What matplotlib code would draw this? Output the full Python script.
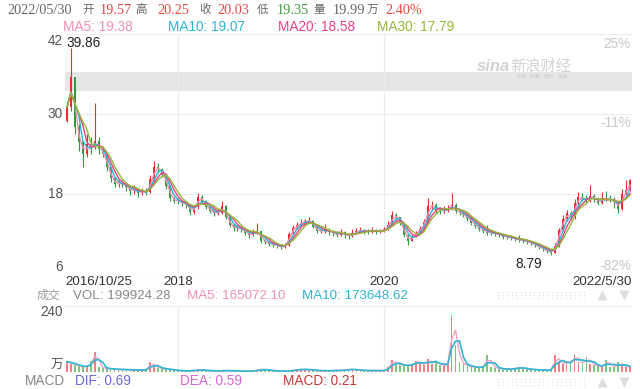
import numpy as np
import pandas as pd
import matplotlib
matplotlib.use("Agg")
import matplotlib.pyplot as plt
import matplotlib.transforms as mtransforms

plt.rcParams['font.family'] = ['Liberation Sans', 'Noto Sans CJK SC']

# price samples (roughly one every two weeks)
close = [31.0, 35.5, 28.0, 25.8, 24.0, 25.5, 25.0, 26.0, 24.8, 24.0,
         22.0, 20.4, 19.5, 19.6, 19.5, 19.0, 18.4, 18.7, 18.1, 18.4,
         18.3, 20.2, 22.0, 21.8, 20.9, 19.2, 17.4, 17.0, 16.9, 16.6,
         16.4, 15.3, 16.0, 17.6, 17.0, 16.0, 15.5, 15.1, 15.2, 16.2,
         14.6, 13.3, 12.9, 12.9, 12.7, 12.2, 11.8, 12.3, 12.4, 11.0,
         10.8, 10.5, 10.4, 10.2, 10.0, 10.3, 12.0, 12.9, 13.4, 13.7,
         13.9, 14.0, 13.1, 12.4, 12.5, 12.6, 12.3, 12.1, 11.9, 12.3,
         11.8, 11.7, 12.1, 12.4, 12.6, 12.4, 12.3, 12.6, 12.4, 12.4,
         12.7, 13.4, 14.8, 14.5, 13.6, 11.8, 11.0, 11.6, 12.2, 12.8,
         13.8, 16.2, 16.3, 15.6, 15.5, 15.6, 15.8, 16.4, 15.5, 15.1,
         14.8, 14.4, 13.6, 13.2, 12.8, 12.5, 12.2, 12.1, 12.0, 11.9,
         11.6, 11.5, 11.4, 11.2, 11.1, 11.0, 10.8, 10.6, 10.3, 10.0,
         9.7, 9.4, 9.2, 10.2, 12.6, 14.2, 15.1, 14.5, 16.6, 17.5,
         17.4, 17.0, 17.7, 17.2, 16.7, 17.4, 17.3, 17.1, 16.8, 15.8,
         18.0, 18.6, 20.03]
high = [32.0, 39.86, 34.0, 28.5, 26.0, 27.0, 26.5, 31.6, 26.5, 25.2,
        24.0, 22.0, 20.6, 20.2, 20.1, 19.8, 19.2, 19.3, 18.9, 18.9,
        18.9, 20.8, 23.0, 22.6, 21.9, 21.0, 19.3, 17.6, 17.4, 17.1,
        16.9, 16.5, 16.4, 18.2, 17.8, 17.1, 16.1, 15.7, 15.6, 16.9,
        16.3, 14.8, 13.5, 13.3, 13.2, 12.9, 12.4, 12.8, 13.6, 12.5,
        11.3, 11.0, 10.8, 10.6, 10.4, 10.6, 12.3, 13.3, 13.8, 14.2,
        14.2, 14.6, 14.1, 13.3, 12.9, 13.5, 12.9, 12.6, 12.3, 12.7,
        12.5, 12.0, 12.7, 12.9, 13.0, 12.8, 12.7, 13.0, 12.8, 12.7,
        13.0, 13.9, 15.4, 15.1, 14.6, 13.7, 11.9, 11.9, 12.5, 13.2,
        14.3, 17.4, 16.9, 16.6, 16.1, 16.2, 16.4, 18.1, 16.6, 15.8,
        15.4, 15.0, 14.6, 13.8, 13.5, 13.0, 13.3, 12.6, 12.4, 12.3,
        12.1, 11.9, 11.8, 11.6, 11.9, 11.4, 11.2, 11.0, 10.8, 10.5,
        10.2, 9.8, 9.6, 10.6, 12.9, 14.9, 15.6, 15.4, 17.2, 18.3,
        18.1, 17.9, 19.4, 18.0, 17.5, 18.3, 18.4, 17.8, 17.5, 16.9,
        18.7, 20.1, 20.25]
low = [28.8, 30.5, 27.0, 24.5, 22.0, 23.5, 24.0, 24.8, 24.0, 23.5,
       21.5, 19.8, 19.0, 19.0, 19.0, 18.5, 17.8, 18.0, 17.6, 17.8,
       17.9, 18.1, 19.9, 21.2, 20.5, 18.8, 16.9, 16.6, 16.5, 16.2,
       15.9, 14.8, 15.0, 15.8, 16.6, 15.7, 15.1, 14.7, 14.8, 15.0,
       14.2, 13.0, 12.5, 12.5, 12.3, 11.9, 11.4, 11.7, 12.0, 10.6,
       10.5, 10.2, 10.1, 9.9, 9.7, 9.9, 10.2, 11.8, 12.8, 13.2,
       13.4, 13.6, 12.9, 12.1, 12.1, 12.2, 11.9, 11.7, 11.5, 11.7,
       11.4, 11.3, 11.6, 12.0, 12.2, 12.0, 12.0, 12.1, 12.0, 12.1,
       12.3, 12.6, 13.3, 14.1, 13.4, 11.5, 10.4, 10.9, 11.5, 12.1,
       12.7, 13.7, 15.8, 15.2, 15.0, 15.1, 15.3, 15.6, 15.2, 14.8,
       14.5, 14.0, 13.3, 12.9, 12.4, 12.2, 11.8, 11.8, 11.7, 11.6,
       11.3, 11.2, 11.1, 10.9, 10.8, 10.7, 10.5, 10.3, 10.0, 9.7,
       9.4, 9.1, 8.79, 9.1, 10.1, 12.4, 14.0, 14.1, 14.3, 16.4,
       16.9, 16.6, 16.8, 16.8, 16.3, 16.5, 16.9, 16.8, 15.9, 15.2,
       15.6, 17.9, 18.4]
first_open = 29.0

# volume in 万 shares
volume = [38, 30, 25, 22, 20, 18, 40, 73, 20, 14,
          12, 11, 10, 9, 9, 8, 8, 7, 7, 8,
          10, 36, 20, 14, 12, 10, 8, 6, 5, 4,
          4, 5, 6, 8, 7, 5, 4, 4, 4, 6,
          5, 4, 4, 3, 3, 3, 3, 4, 9, 10,
          7, 5, 4, 3, 3, 3, 5, 7, 9, 10,
          9, 8, 6, 5, 5, 4, 5, 6, 5, 6,
          8, 10, 9, 7, 6, 5, 5, 6, 5, 5,
          6, 20, 44, 28, 24, 26, 22, 30, 40, 32,
          26, 48, 30, 38, 26, 24, 30, 207, 98, 35,
          28, 22, 18, 16, 18, 20, 62, 20, 15, 12,
          11, 10, 11, 14, 18, 12, 10, 9, 8, 7,
          7, 6, 8, 62, 35, 30, 40, 32, 65, 36,
          30, 55, 30, 25, 22, 18, 45, 20, 18, 35,
          22, 20, 20]

date_ticks = [0, 28, 80, 142]
date_labels = ['2016/10/25', '2018', '2020', '2022/5/30']
price_ticks = [42, 30, 18, 6]
pct_ticks = [42, 30, 6]
pct_labels = ['25%', '-11%', '-82%']

ma_windows = [2, 3, 4, 5]
ma_names = ['MA5: 19.38', 'MA10: 19.07', 'MA20: 18.58', 'MA30: 17.79']
ma_colors = ['#f48fb1', '#2bb6d3', '#e8418b', '#93b936']

RED = '#f02b2b'
GREEN = '#2f9e3a'
GRID = '#ececec'

close = np.array(close)
opens = np.r_[first_open, close[:-1]]
up = close >= opens
idx = np.arange(len(close))

W, H = 640, 389
fig = plt.figure(figsize=(6.4, 3.89), dpi=100)

def box(l, t, r, b):
    return [l / W, 1 - b / H, (r - l) / W, (b - t) / H]

# ---- main price panel ----
ax = fig.add_axes(box(65, 34, 632, 274))
ax.set_xlim(-0.5, len(close) - 0.5)
ax.set_ylim(6, 42)
ax.axhspan(33.45, 36.3, color='#e6e6e6', lw=0, zorder=0)
for y in price_ticks:
    ax.axhline(y, color=GRID, lw=0.8, zorder=0.5)
for x in date_ticks[1:3]:
    ax.axvline(x, color=GRID, lw=0.8, zorder=0.5)

# sina watermark (sits on the grey band)
ax.text(0.727, 0.865, 'sina', transform=ax.transAxes, color='#d2d2d2',
        fontsize=12, style='italic', weight='bold', ha='left', va='center', zorder=1)
ax.text(0.785, 0.865, '新浪财经', transform=ax.transAxes, color='#d2d2d2',
        fontsize=11, style='italic', ha='left', va='center', zorder=1)
ax.text(0.84, 0.823, '行情   股票   理财   基金', transform=ax.transAxes,
        color='#cfcfcf', fontsize=3.5, ha='center', va='center', zorder=1)

cols = np.where(up, RED, GREEN)
ax.vlines(idx, low, high, colors=cols, lw=0.8, zorder=2)
ax.bar(idx, np.abs(close - opens), bottom=np.minimum(close, opens),
       width=0.5, color=cols, lw=0, zorder=2)
s = pd.Series(close)
for w, c in zip(ma_windows, ma_colors):
    ax.plot(idx, s.rolling(w, min_periods=1).mean(), color=c, lw=1.0, zorder=3)

for sp in ax.spines.values():
    sp.set_visible(False)
ax.set_xticks([])
ax.set_yticks([])

tr = mtransforms.blended_transform_factory(ax.transAxes, ax.transData)
lab = dict(fontsize=9.8, color='#555555', transform=tr, ha='right')
ax.text(-0.004, 42, '42', va='top', **lab)
ax.text(-0.004, 30, '30', va='center', **lab)
ax.text(-0.004, 18, '18', va='center', **lab)
ax.text(-0.004, 6, '6', va='bottom', **lab)
pl = dict(fontsize=9.8, color='#c8c8c8', transform=tr, ha='right')
ax.text(0.998, pct_ticks[0] - 0.4, pct_labels[0], va='top', **pl)
ax.text(0.998, pct_ticks[1] - 0.3, pct_labels[1], va='top', **pl)
ax.text(0.998, pct_ticks[2] + 0.2, pct_labels[2], va='bottom', **pl)

imax = int(np.argmax(high))
imin = int(np.argmin(low))
ax.annotate(f'{high[imax]:.2f}', (imax, high[imax]), xytext=(-4, 5),
            textcoords='offset pixels', ha='left', va='center',
            fontsize=9.8, color='#222222')
ax.annotate(f'{low[imin]:.2f}', (imin, low[imin]), xytext=(-9, -2),
            textcoords='offset pixels', ha='right', va='top',
            fontsize=9.8, color='#222222')

# date labels under the price panel
trx = mtransforms.blended_transform_factory(ax.transData, fig.transFigure)
aligns = ['left', 'center', 'center', 'right']
for x, t, a in zip(date_ticks, date_labels, aligns):
    xx = x - 0.5 if a == 'left' else (x + 0.5 if a == 'right' else x)
    ax.text(xx, 1 - 282 / H, t, transform=trx, ha=a, va='center',
            fontsize=9.6, color='#333333')

# ---- volume panel ----
vx = fig.add_axes(box(65, 306, 632, 372))
vx.set_xlim(-0.5, len(close) - 0.5)
vx.set_ylim(0, 240)
vx.axhline(240, color=GRID, lw=0.8)
for x in date_ticks[1:3]:
    vx.axvline(x, color=GRID, lw=0.8, zorder=0)
vx.bar(idx, volume, width=0.45, color=np.where(up, '#f47f7f', '#7cc67c'), lw=0)
vs = pd.Series(volume)
vx.plot(idx, vs.rolling(2, min_periods=1).mean(), color='#f6a0bf', lw=1.0)
vx.plot(idx, vs.rolling(3, min_periods=1).mean(), color='#2bb6d3', lw=1.2)
for sp in vx.spines.values():
    sp.set_visible(False)
vx.set_xticks([])
vx.set_yticks([])

# ---- overlay for header texts and widgets, pixel coords ----
ov = fig.add_axes([0, 0, 1, 1], zorder=5)
ov.set_xlim(0, W)
ov.set_ylim(H, 0)
ov.axis('off')

serif = ['Liberation Serif', 'Noto Sans CJK SC']
GRAY = '#666666'
HRED = '#e24a42'
HGREEN = '#3f9a3f'
header = [(7, '2022/05/30', GRAY, 10.3), (82, '开', GRAY, 8.3),
          (100, '19.57', HRED, 10.3), (135, '高', GRAY, 8.3),
          (157, '20.25', HRED, 10.3), (199, '收', GRAY, 8.3),
          (217, '20.03', HRED, 10.3), (257, '低', GRAY, 8.3),
          (277, '19.35', HGREEN, 10.3), (313, '量', GRAY, 8.3),
          (333, '19.99', GRAY, 10.3), (367, '万', GRAY, 8.3),
          (385, '2.40%', HRED, 10.3)]
for x, t, c, fs in header:
    ov.text(x, 10, t, color=c, fontsize=fs, family=serif, ha='left', va='center')

for x, t, c in zip([63, 168, 278, 377], ma_names, ma_colors):
    ov.text(x, 27, t, color=c, fontsize=9.8, ha='left', va='center')

ov.text(37, 296, '成交', color='#999999', fontsize=8.5, ha='left', va='center')
ov.text(73, 296, 'VOL: 199924.28', color='#888888', fontsize=9.6, ha='left', va='center')
ov.text(187, 296, 'MA5: 165072.10', color='#f48fb1', fontsize=9.6, ha='left', va='center')
ov.text(302, 296, 'MA10: 173648.62', color='#2bb6d3', fontsize=9.6, ha='left', va='center')
ov.text(63, 312, '240', color='#555555', fontsize=9.8, ha='right', va='center')
ov.text(63, 366, '万', color='#555555', fontsize=9, ha='right', va='center')

ov.text(25, 381, 'MACD', color='#888888', fontsize=9.8, ha='left', va='center')
ov.text(75, 381, 'DIF: 0.69', color='#6a6ae0', fontsize=9.8, ha='left', va='center')
ov.text(180, 381, 'DEA: 0.59', color='#d966d6', fontsize=9.8, ha='left', va='center')
ov.text(283, 381, 'MACD: 0.21', color='#c23b3b', fontsize=9.8, ha='left', va='center')

# little control widgets at the right
for yy in (295, 382):
    gx, gy = np.meshgrid(np.arange(498, 588, 4.5), [yy - 3, yy, yy + 3])
    ov.scatter(gx.ravel(), gy.ravel(), s=0.6, color='#d8d8d8', lw=0)
    ov.plot(602, yy, marker='^', ms=7, color='#dddddd', mec='none')
    ov.plot(624, yy, marker='v', ms=7, color='#dddddd', mec='none')

fig.savefig('out.png', dpi=100)
